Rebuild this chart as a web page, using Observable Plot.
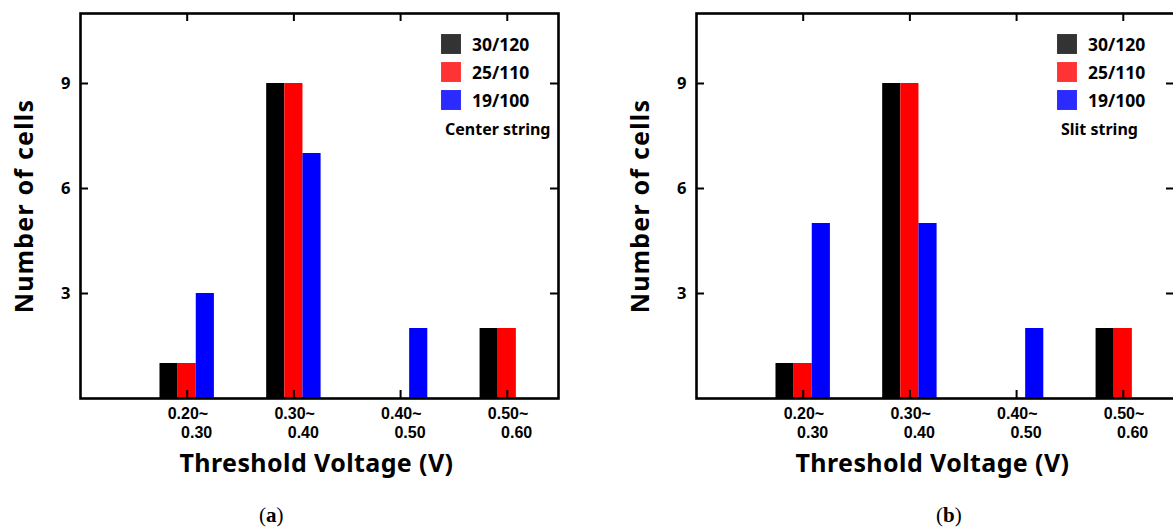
<!DOCTYPE html>
<html>
<head>
<meta charset="utf-8">
<script src="https://cdn.jsdelivr.net/npm/d3@7"></script>
<script src="https://cdn.jsdelivr.net/npm/@observablehq/plot@0.6"></script>
<style>
  html, body { margin: 0; padding: 0; background: #fff; }
  #root { position: relative; width: 1173px; height: 529px; overflow: hidden; font-family: "Noto Sans", "Open Sans", sans-serif; }
  .panel { position: absolute; top: 0; width: 586px; height: 529px; }
  .legend { position: absolute; left: 441px; top: 0; width: 140px; height: 150px; }
  .legend .sw { position: absolute; left: 0; width: 20px; height: 20px; box-sizing: border-box; }
  .legend .lab { position: absolute; left: 31px; font-weight: bold; font-size: 17.5px; line-height: 20px; color: #000; }
  .legend .ttl { position: absolute; left: 4px; top: 119px; font-weight: bold; font-size: 16px; line-height: 20px; color: #000; white-space: nowrap; }
  .letter { position: absolute; top: 503px; font-family: "Liberation Serif", "DejaVu Serif", serif; font-size: 21px; color: #000; }
  .letter b { font-weight: bold; }
</style>
</head>
<body>
<div id="root"></div>
<script>
// ---- data ----
const categories = ["0.20~0.30", "0.30~0.40", "0.40~0.50", "0.50~0.60"];
const tickLine1 = ["0.20~", "0.30~", "0.40~", "0.50~"];
const tickLine2 = ["0.30", "0.40", "0.50", "0.60"];
const yTicks = [3, 6, 9];
const seriesNames = ["30/120", "25/110", "19/100"];
const barColors = ["#000000", "#ff0000", "#0000ff"];
const legendColors = ["#333333", "#ff3333", "#2b2bff"];

// (a) Center string
const center_30_120 = [1, 9, 0, 2];
const center_25_110 = [1, 9, 0, 2];
const center_19_100 = [3, 7, 2, 0];
// (b) Slit string
const slit_30_120 = [1, 9, 0, 2];
const slit_25_110 = [1, 9, 0, 2];
const slit_19_100 = [5, 5, 2, 0];

const xTitle = "Threshold Voltage (V)";
const yTitle = "Number of cells";

// ---- layout constants ----
const W = 586, H = 480;
const mL = 80, mR = 28, mT = 13, mB = 82;
const barW = 0.17;
const offsets = [-0.17, 0, 0.17];
const FONT = "Noto Sans, Open Sans, sans-serif";
const NB = "\u00a0";

function makePanel(seriesValues, legendTitle, letter, left, letterX) {
  const rows = [];
  seriesValues.forEach((vals, s) => {
    vals.forEach((v, i) => {
      if (v > 0) rows.push({cat: categories[i], idx: i + 1, series: seriesNames[s], s, value: v});
    });
  });
  const tickIdx = categories.map((c, i) => i + 1);
  const innerW = W - mL - mR, innerH = H - mT - mB;
  const tickLen = 8;

  const plot = Plot.plot({
    width: W, height: H,
    marginLeft: mL, marginRight: mR, marginTop: mT, marginBottom: mB,
    style: {fontFamily: FONT, overflow: "visible", background: "transparent"},
    x: {domain: [0, 4.48], axis: null},
    y: {domain: [0, 11], axis: null},
    marks: [
      Plot.rectY(rows, {
        x1: d => d.idx + offsets[d.s] - barW / 2,
        x2: d => d.idx + offsets[d.s] + barW / 2,
        y1: 0, y2: "value",
        fill: d => barColors[d.s]
      }),
      // inward ticks bottom / top
      Plot.ruleX(tickIdx, {x: d => d, insetTop: innerH - tickLen, stroke: "#000", strokeWidth: 2}),
      Plot.ruleX(tickIdx, {x: d => d, insetBottom: innerH - tickLen, stroke: "#000", strokeWidth: 2}),
      // inward ticks left / right
      Plot.ruleY(yTicks, {y: d => d, insetRight: innerW - tickLen, stroke: "#000", strokeWidth: 2}),
      Plot.ruleY(yTicks, {y: d => d, insetLeft: innerW - tickLen, stroke: "#000", strokeWidth: 2}),
      Plot.frame({stroke: "#000", strokeWidth: 2.6}),
      Plot.axisY(yTicks, {anchor: "left", tickSize: 0, tickPadding: 10, fontSize: 16.5, fontWeight: "bold", label: null, fill: "#000"}),
      // x tick labels (two lines, second one indented)
      Plot.text(tickIdx, {
        x: d => d, frameAnchor: "bottom", lineAnchor: "middle", textAnchor: "start",
        dy: 24, dx: -19.5, lineHeight: 1.2,
        text: (d, i) => tickLine1[i] + "\n" + NB + NB + NB + tickLine2[i],
        fontFamily: "Liberation Sans, Arial, sans-serif",
        fontSize: 16, fontWeight: "bold", fill: "#000"
      }),
      // axis titles
      Plot.text([xTitle], {frameAnchor: "bottom", lineAnchor: "middle", textAnchor: "middle", dy: 65.5, dx: -3, fontSize: 25, fontWeight: "bold", fill: "#000"}),
      Plot.text([yTitle], {frameAnchor: "left", lineAnchor: "middle", textAnchor: "middle", dx: -56, dy: 0, rotate: -90, fontSize: 25, fontWeight: "bold", fill: "#000"})
    ]
  });

  // letter spacing to match the reference font's wider glyphs
  d3.select(plot).selectAll("text").each(function() {
    if (this.textContent === xTitle) d3.select(this).style("letter-spacing", "0.4px");
    if (this.textContent === yTitle) d3.select(this).style("letter-spacing", "1.2px");
  });

  const div = document.createElement("div");
  div.className = "panel";
  div.style.left = left + "px";
  div.appendChild(plot);

  const leg = document.createElement("div");
  leg.className = "legend";
  seriesNames.forEach((n, s) => {
    const top = 34 + 28 * s;
    const sw = document.createElement("div");
    sw.className = "sw";
    sw.style.top = top + "px";
    sw.style.background = legendColors[s];
    sw.style.border = "1px solid " + d3.color(legendColors[s]).brighter(0.4);
    const lab = document.createElement("div");
    lab.className = "lab";
    lab.style.top = top + "px";
    lab.textContent = n;
    leg.appendChild(sw); leg.appendChild(lab);
  });
  const ttl = document.createElement("div");
  ttl.className = "ttl";
  ttl.textContent = legendTitle;
  leg.appendChild(ttl);
  div.appendChild(leg);

  const let_ = document.createElement("div");
  let_.className = "letter";
  let_.style.left = letterX + "px";
  let_.innerHTML = "(<b>" + letter + "</b>)";
  div.appendChild(let_);
  return div;
}

const root = document.getElementById("root");
root.appendChild(makePanel([center_30_120, center_25_110, center_19_100], "Center string", "a", 0, 259));
root.appendChild(makePanel([slit_30_120, slit_25_110, slit_19_100], "Slit string", "b", 616, 320));
</script>
</body>
</html>
